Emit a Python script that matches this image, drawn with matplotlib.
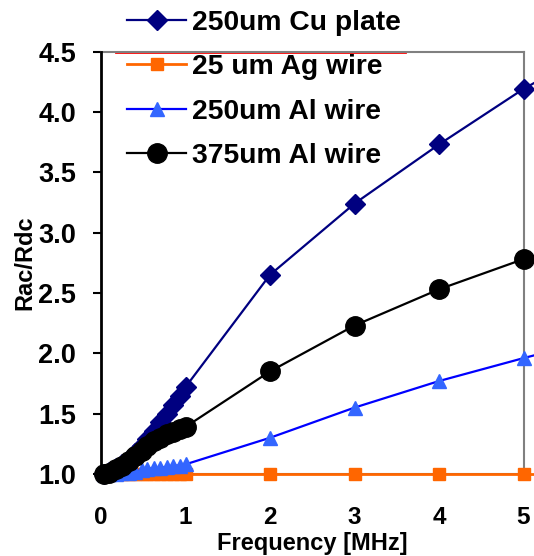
import matplotlib
matplotlib.use("Agg")
import matplotlib.pyplot as plt

# ---- data ----
freq = [0.03, 0.1, 0.18, 0.25, 0.33, 0.4, 0.48, 0.55, 0.63, 0.7, 0.78, 0.85, 0.93, 1.0,
        2.0, 3.0, 4.0, 5.0, 6.0]
cu_250 = [1.00, 1.02, 1.05, 1.08, 1.12, 1.17, 1.23, 1.29, 1.36, 1.43, 1.50, 1.57, 1.65, 1.72,
          2.65, 3.24, 3.73, 4.19, 4.58]
ag_25 = [1.00] * 19
al_250 = [1.00, 1.00, 1.00, 1.01, 1.01, 1.02, 1.03, 1.04, 1.05, 1.05, 1.06, 1.07, 1.07, 1.08,
          1.30, 1.55, 1.77, 1.96, 2.14]
al_375 = [1.00, 1.01, 1.04, 1.07, 1.11, 1.15, 1.19, 1.23, 1.27, 1.30, 1.33, 1.35, 1.37, 1.39,
          1.85, 2.23, 2.53, 2.78, 3.00]
labels = ["250um Cu plate", "25 um Ag wire", "250um Al wire", "375um Al wire"]
yticks = [1.0, 1.5, 2.0, 2.5, 3.0, 3.5, 4.0, 4.5]
xticks = [0, 1, 2, 3, 4, 5]

plt.rcParams['font.family'] = ['Liberation Sans', 'DejaVu Sans']
plt.rcParams['font.weight'] = 'bold'

fig = plt.figure(figsize=(5.34, 5.56), dpi=100)
W, H = 534, 556
ax = fig.add_axes([101 / W, 1 - 474 / H, (523.5 - 101) / W, (474 - 51.5) / H])

h1, = ax.plot(freq, cu_250, color='#000080', lw=1.6, marker='D', ms=10.5,
              mfc='#000080', mec='#000080', clip_on=False, zorder=3, label=labels[0])
h2, = ax.plot(freq, ag_25, color='#FF6600', lw=2.0, marker='s', ms=9,
              mfc='#FF6600', mec='#FF6600', clip_on=False, zorder=4, label=labels[1])
h3, = ax.plot(freq, al_250, color='#0000FF', lw=1.6, marker='^', ms=10,
              mfc='#3366FF', mec='#3366FF', clip_on=False, zorder=5, label=labels[2])
h4, = ax.plot(freq, al_375, color='black', lw=1.6, marker='o', ms=14,
              mfc='black', mec='black', clip_on=False, zorder=6, label=labels[3])

ax.set_xlim(0, 5)
ax.set_ylim(1.0, 4.5)
ax.set_xticks(xticks)
ax.set_yticks(yticks)
ax.set_yticklabels([f"{v:.1f}" for v in yticks])
ax.tick_params(axis='y', direction='out', length=6, width=1.5, pad=12, labelsize=19.5)
ax.tick_params(axis='x', length=0, pad=23, labelsize=17.5)
for s in ['top', 'right', 'bottom']:
    ax.spines[s].set_color('#808080')
    ax.spines[s].set_linewidth(1.5)
ax.spines['left'].set_color('black')
ax.spines['left'].set_linewidth(2)
ax.spines['left'].set_zorder(7)

ax.axhline(4.5, xmin=(116 - 101) / 422.5, xmax=(405 - 101) / 422.5, color='red', lw=2,
           clip_on=False, zorder=2.5)

ax.set_xlabel("Frequency [MHz]", fontsize=17, fontweight='bold', labelpad=2)
ax.set_ylabel("Rac/Rdc", fontsize=17, fontweight='bold', labelpad=1)

fig.legend(handles=[h1, h2, h3, h4], loc='upper left', bbox_to_anchor=(127 / W, 1 - 10 / H),
           frameon=False, borderpad=0, borderaxespad=0, handlelength=2.1,
           handletextpad=0.2, labelspacing=0.65, prop={'weight': 'bold', 'size': 20.3})

fig.savefig("out.png", dpi=100)
